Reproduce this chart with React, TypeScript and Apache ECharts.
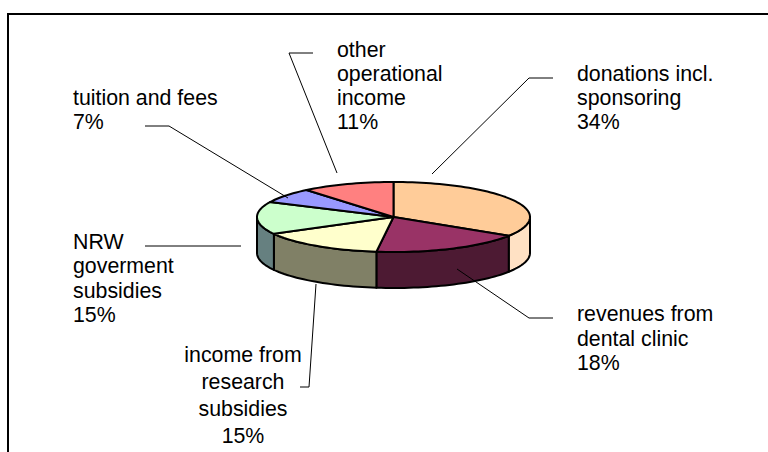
import React, { useEffect, useRef } from "react";
import * as echarts from "echarts";

const categories = [
  "donations incl.\nsponsoring",
  "revenues from\ndental clinic",
  "income from\nresearch\nsubsidies",
  "NRW\ngoverment\nsubsidies",
  "tuition and fees",
  "other\noperational\nincome",
];
const shares = [34, 18, 15, 15, 7, 11];
const topColors = ["#FFCC99", "#993366", "#FFFFCC", "#CCFFCC", "#9999FF", "#FF8080"];
const sideColors = ["#FFE1C4", "#4D1A33", "#808066", "#668080", "#4D4D80", "#804040"];

const CX = 393.5, CY = 217, RX = 136.5, RY = 35, DEPTH = 36;

// layout of labels: text anchor + leader polyline
const labelLayout = [
  { x: 577, y: 62, align: "left", lh: 24, line: [[432, 174], [529, 78], [553, 78]] },
  { x: 577, y: 302, align: "left", lh: 24.5, line: [[457, 269], [529, 318], [553, 318]] },
  { x: 243, y: 341, align: "center", lh: 27, line: [[316, 284], [309, 387], [300, 387]] },
  { x: 73, y: 230, align: "left", lh: 24.3, line: [[241, 246], [145, 246]] },
  { x: 73, y: 86, align: "left", lh: 24, line: [[288, 198], [169, 126], [145, 126]] },
  { x: 337, y: 38, align: "left", lh: 24, line: [[337, 173], [289, 53], [313, 53]] },
];

const total = shares.reduce((a, b) => a + b, 0);
const pt = (deg: number, dy = 0): number[] => {
  const r = (deg * Math.PI) / 180;
  return [CX + RX * Math.sin(r), CY - RY * Math.cos(r) + dy];
};
const arc = (a: number, b: number, dy = 0): number[][] => {
  const n = Math.max(2, Math.ceil(Math.abs(b - a) / 2));
  const out: number[][] = [];
  for (let i = 0; i <= n; i++) out.push(pt(a + ((b - a) * i) / n, dy));
  return out;
};

const renderItem = (params: any, api: any) => {
  const i = params.dataIndex;
  const value = api.value(0);
  let acc = 0;
  for (let k = 0; k < i; k++) acc += shares[k];
  const a = (acc / total) * 360;
  const b = a + (value / total) * 360;
  const stroke = { stroke: "#000", lineWidth: 2, lineJoin: "round" };
  const children: any[] = [];
  const fa = Math.max(a, 90), fb = Math.min(b, 270);
  if (fb > fa) {
    children.push({
      type: "polygon",
      shape: { points: [...arc(fa, fb), ...arc(fb, fa, DEPTH)] },
      style: { fill: sideColors[i], ...stroke },
    });
  }
  children.push({
    type: "polygon",
    shape: { points: [[CX, CY], ...arc(a, b)] },
    style: { fill: topColors[i], ...stroke },
    z2: 5,
  });
  const l = labelLayout[i];
  children.push({
    type: "polyline",
    shape: { points: l.line },
    style: { fill: null, stroke: "#000", lineWidth: 1 },
    z2: 6,
  });
  children.push({
    type: "text",
    z2: 7,
    style: {
      x: l.x,
      y: l.y,
      text: `${categories[i]}\n${value}%`,
      font: '21.33px "Liberation Sans", Arial, sans-serif',
      fill: "#000",
      align: l.align,
      verticalAlign: "top",
      lineHeight: l.lh,
    },
  });
  return { type: "group", children };
};

export default function App() {
  const ref = useRef<HTMLDivElement>(null);
  useEffect(() => {
    const chart = echarts.init(ref.current!, undefined, { renderer: "svg" });
    chart.setOption({
      animation: false,
      backgroundColor: "#fff",
      graphic: [
        {
          type: "rect",
          z: -1,
          shape: { x: 8, y: 14, width: 780, height: 460 },
          style: { fill: "#fff", stroke: "#000", lineWidth: 2 },
        },
      ],
      series: [
        {
          type: "custom",
          coordinateSystem: "none",
          renderItem,
          silent: true,
          data: shares.map((v, i) => ({ name: categories[i], value: [v] })),
        },
      ],
    });
    return () => chart.dispose();
  }, []);
  return <div ref={ref} style={{ position: "fixed", left: 0, top: 0, width: 768, height: 452 }} />;
}
